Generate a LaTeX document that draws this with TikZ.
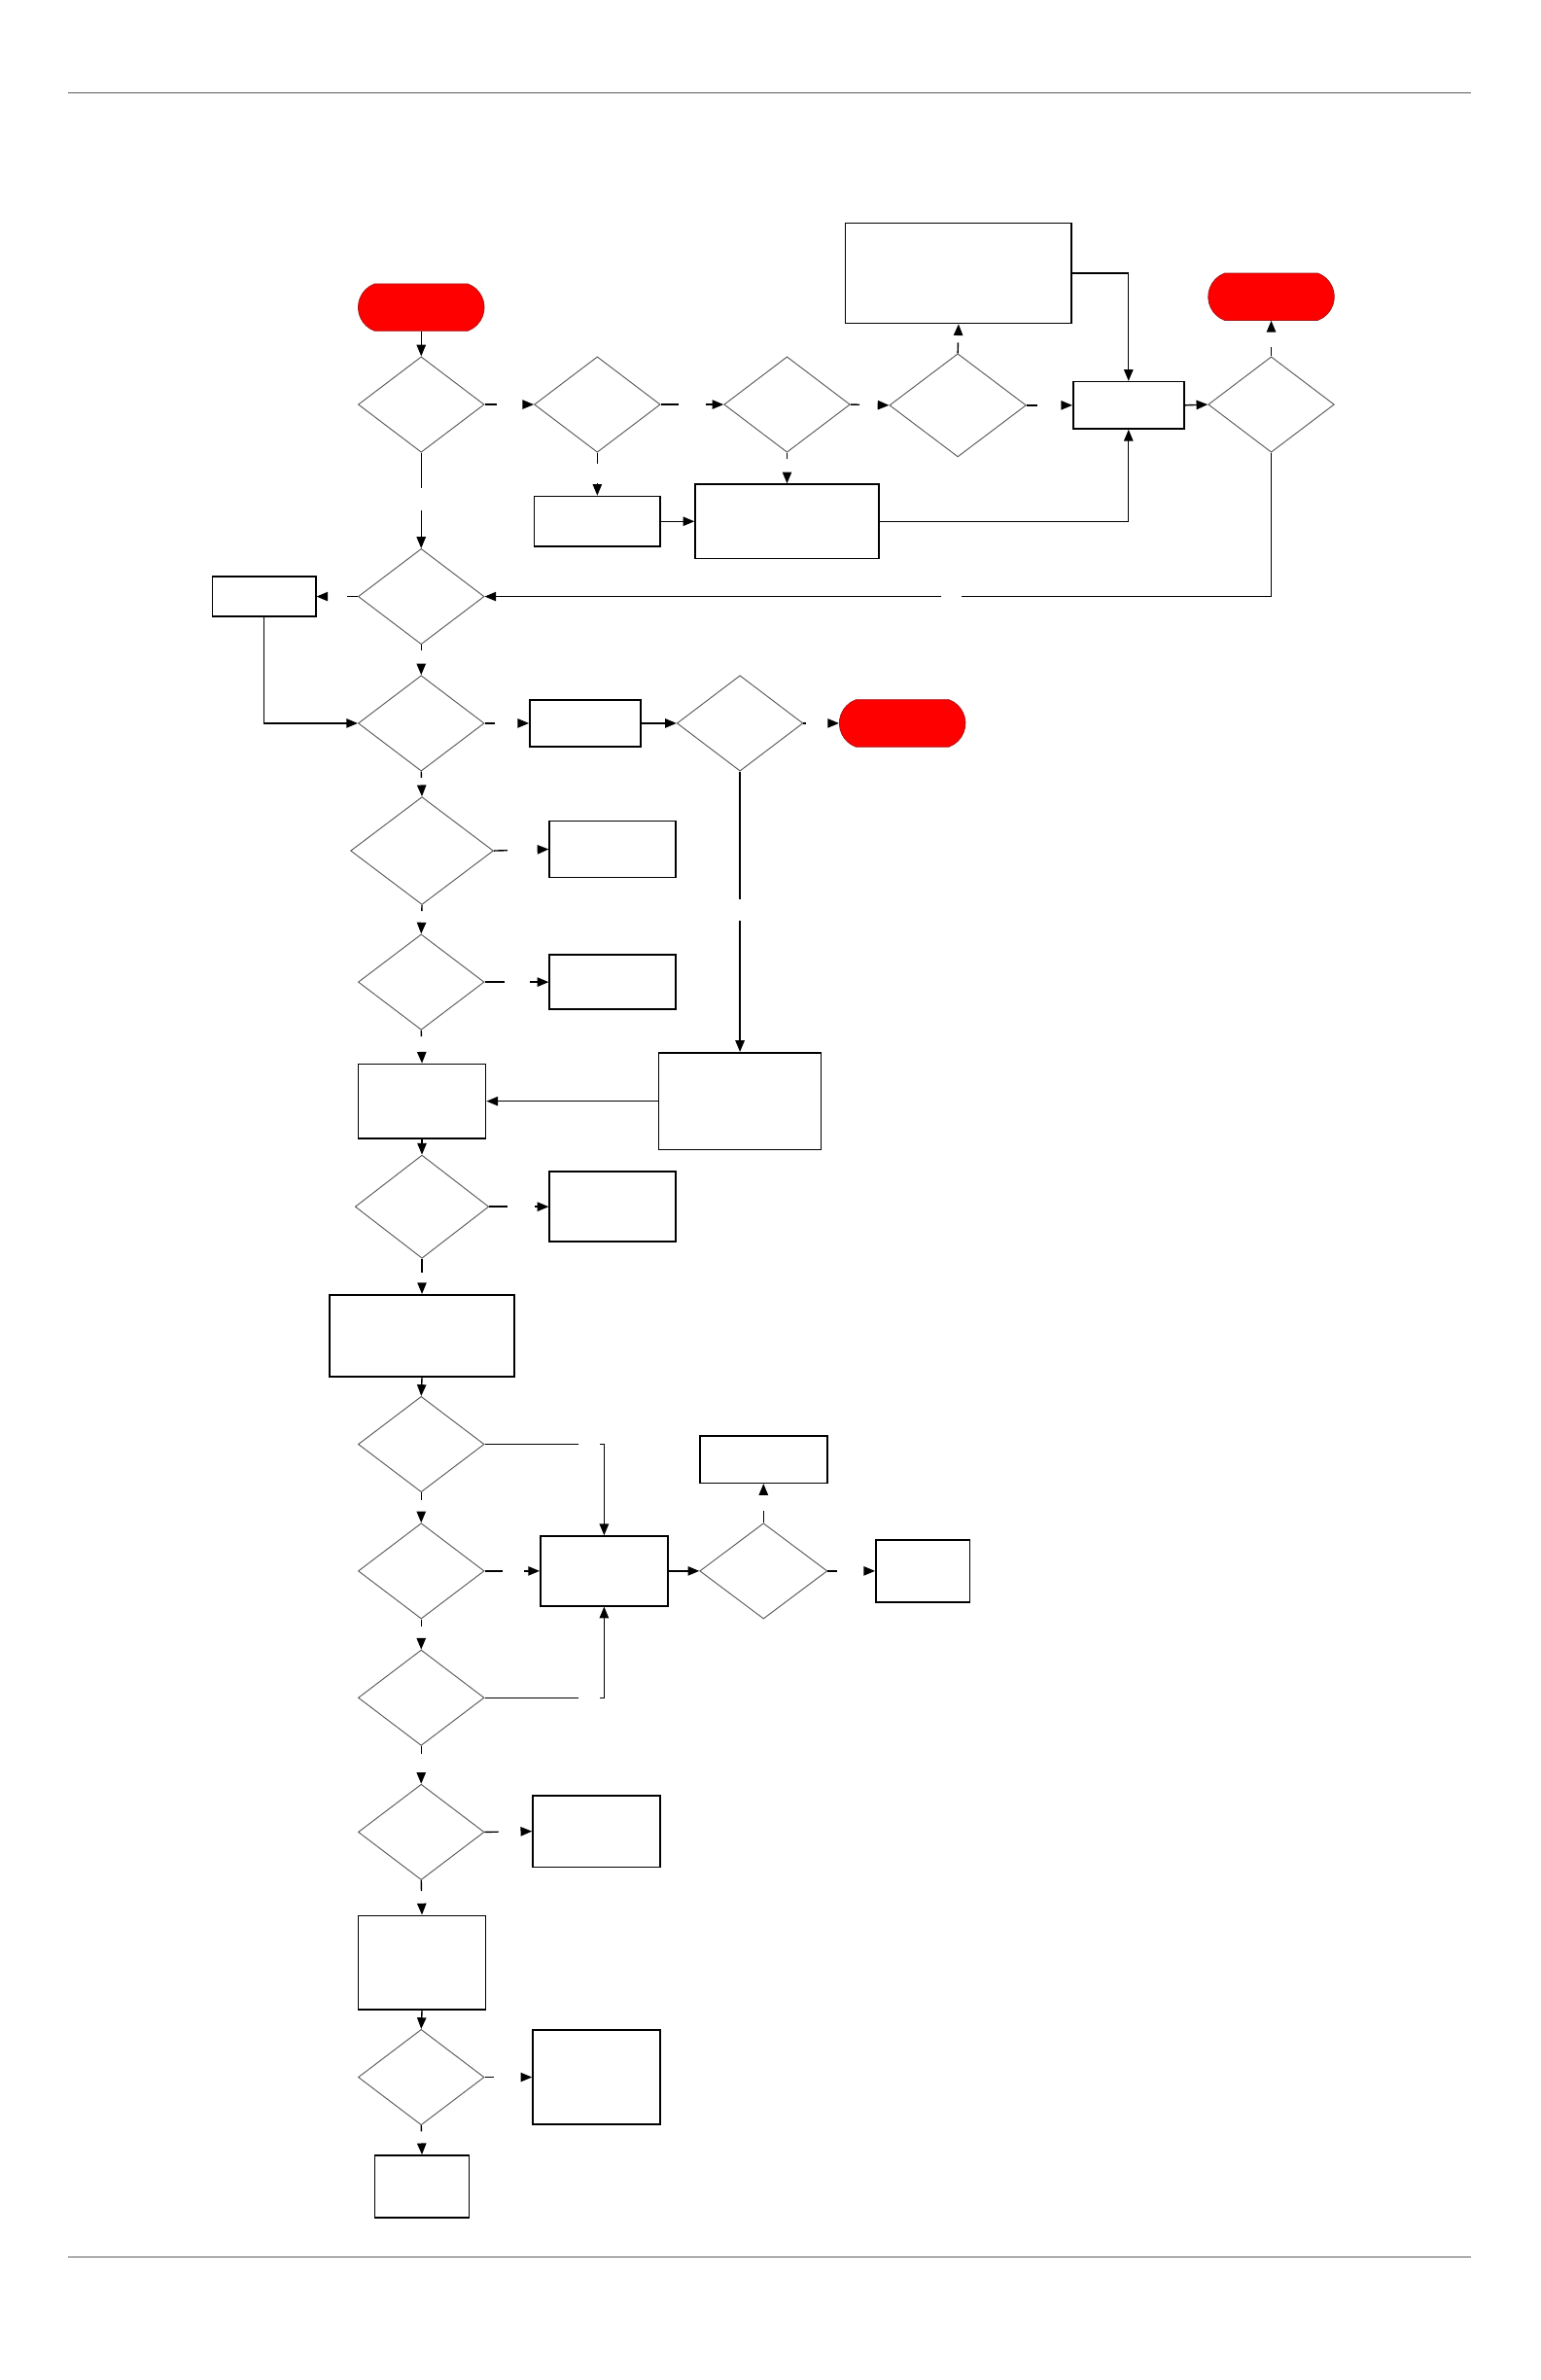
\documentclass[tikz,border=0pt]{standalone}
\usetikzlibrary{shapes.geometric,shapes.misc,arrows.meta}
\definecolor{termred}{RGB}{170,20,20}
\definecolor{rulegray}{RGB}{90,90,90}
\begin{document}
\begin{tikzpicture}[x=1pt,y=-1pt]
    \tikzstyle{procbox}=[draw=black, line width=1pt, inner sep=0pt, minimum width=83pt]
    \tikzstyle{decision}=[diamond, draw=black!65, line width=0.6pt, inner sep=0pt, minimum width=83pt, minimum height=63pt]
    \tikzstyle{terminal}=[rounded rectangle, rounded rectangle arc length=140, draw=termred, fill=red, line width=0.5pt, inner sep=0pt, minimum width=83pt, minimum height=31pt]
    \tikzstyle{link}=[-{Triangle[length=7.5pt,width=6pt]}, line width=0.9pt]
    \tikzset{cutlink/.style 2 args={link, dash pattern=on #1 off #2 on 2000pt}}

    \useasboundingbox (0,0) rectangle (1015,1568);
    \draw[rulegray, line width=0.8pt] (45,61) -- (969,61);
    \draw[rulegray, line width=0.8pt] (45,1487) -- (969,1487);

    \node[terminal] (start) at (277.5,202.5) {};
    \node[decision] (d1) at (277.5,266.5) {};
    \node[decision] (d2) at (393.5,266.5) {};
    \node[decision] (d3) at (518.5,266.5) {};
    \node[decision, minimum width=90pt, minimum height=68pt] (d4) at (631,267) {};
    \node[procbox, minimum width=149pt, minimum height=66pt] (b1) at (631.5,180) {};
    \node[procbox, minimum width=73pt, minimum height=31pt] (b2) at (743.5,267) {};
    \node[decision] (d5) at (837.5,266.5) {};
    \node[terminal] (end1) at (837.5,195.5) {};
    \node[procbox, minimum height=33pt] (b3) at (393.5,343.5) {};
    \node[procbox, minimum width=121pt, minimum height=49pt] (b4) at (518.5,343.5) {};

    \node[decision] (d6) at (277.5,393) {};
    \node[procbox, minimum width=68pt, minimum height=26pt] (b5) at (174,393) {};

    \node[decision] (d7) at (277.5,476.5) {};
    \node[procbox, minimum width=73pt, minimum height=31pt] (b6) at (385.5,476.5) {};
    \node[decision] (d8) at (487.5,476.5) {};
    \node[terminal] (end2) at (594.5,476.5) {};

    \node[decision, minimum width=94pt, minimum height=71pt] (d9) at (278,560.5) {};
    \node[procbox, minimum height=37pt] (b8) at (403.5,559.5) {};

    \node[decision] (d10) at (277.5,647) {};
    \node[procbox, minimum height=36pt] (b9) at (403.5,647) {};

    \node[procbox, minimum width=84pt, minimum height=49pt] (b10) at (278,725.5) {};
    \node[procbox, minimum width=107pt, minimum height=64pt] (b7) at (487.5,725.5) {};

    \node[decision, minimum width=88pt, minimum height=68pt] (d11) at (278,795) {};
    \node[procbox, minimum height=46pt] (b11) at (403.5,795) {};

    \node[procbox, minimum width=122pt, minimum height=54pt] (b12) at (278,880) {};

    \node[decision] (d12) at (277.5,951.5) {};
    \node[decision] (d13) at (277.5,1035) {};
    \node[procbox, minimum width=84pt, minimum height=46pt] (b13) at (398,1035) {};
    \node[decision, minimum width=84pt] (d14) at (503,1035) {};
    \node[procbox, minimum width=84pt, minimum height=31pt] (b14) at (503,961.5) {};
    \node[procbox, minimum width=62pt, minimum height=41pt] (b15) at (608,1035) {};
    \node[decision] (d15) at (277.5,1118.5) {};

    \node[decision] (d16) at (277.5,1207) {};
    \node[procbox, minimum width=84pt, minimum height=47pt] (b16) at (393,1206.5) {};
    \node[procbox, minimum width=84pt, minimum height=62pt] (b17) at (278,1293) {};
    \node[decision] (d17) at (277.5,1368.5) {};
    \node[procbox, minimum width=84pt, minimum height=62pt] (b18) at (393,1368.5) {};
    \node[procbox, minimum width=62pt, minimum height=41pt] (b19) at (278,1440.5) {};

    \draw[link] (start) -- (d1);
    \draw[cutlink={8pt}{18pt}] (d1.east) -- (d2.west);
    \draw[cutlink={12pt}{18pt}] (d2.east) -- (d3.west);
    \draw[cutlink={6pt}{14pt}] (d3.east) -- (d4.west);
    \draw[cutlink={7pt}{17pt}] (d4.east) -- (b2.west);
    \draw[link] (b2.east) -- (d5.west);
    \draw[cutlink={6pt}{11pt}] (d5.north) -- (end1.south);
    \draw[cutlink={7pt}{8pt}] (d4.north) -- (b1.south);
    \draw[link] (b1.east) -| (b2.north);
    \draw[cutlink={7pt}{13pt}] (d2.south) -- (b3.north);
    \draw[cutlink={4pt}{10pt}] (d3.south) -- (b4.north);
    \draw[link] (b3.east) -- (b4.west);
    \draw[link] (b4.east) -| (b2.south);
    \draw[cutlink={23pt}{15pt}] (d1.south) -- (d6.north);
    \draw[cutlink={299pt}{13pt}] (d5.south) |- (d6.east);

    \draw[cutlink={7pt}{14pt}] (d6.west) -- (b5.east);
    \draw[link] (b5.south) |- (d7.west);
    \draw[cutlink={4pt}{9pt}] (d6.south) -- (d7.north);
    \draw[cutlink={7pt}{16pt}] (d7.east) -- (b6.west);
    \draw[link] (b6.east) -- (d8.west);
    \draw[cutlink={2pt}{15pt}] (d8.east) -- (end2.west);
    \draw[cutlink={84pt}{14pt}] (d8.south) -- (b7.north);
    \draw[cutlink={4pt}{6pt}] (d7.south) -- (d9.north);

    \draw[cutlink={9pt}{21pt}] (d9.east) -- (b8.west);
    \draw[cutlink={4pt}{8pt}] (d9.south) -- (d10.north);
    \draw[cutlink={13pt}{17pt}] (d10.east) -- (b9.west);
    \draw[cutlink={4pt}{11pt}] (d10.south) -- (b10.north);
    \draw[link] (b7.west) -- (b10.east);
    \draw[link] (b10.south) -- (d11.north);
    \draw[cutlink={12pt}{18pt}] (d11.east) -- (b11.west);
    \draw[cutlink={9pt}{8pt}] (d11.south) -- (b12.north);
    \draw[link] (b12.south) -- (d12.north);

    \draw[cutlink={62pt}{14pt}] (d12.east) -| (b13.north);
    \draw[cutlink={5pt}{9pt}] (d12.south) -- (d13.north);
    \draw[cutlink={12pt}{14pt}] (d13.east) -- (b13.west);
    \draw[link] (b13.east) -- (d14.west);
    \draw[cutlink={8pt}{11pt}] (d14.north) -- (b14.south);
    \draw[cutlink={6pt}{19pt}] (d14.east) -- (b15.west);
    \draw[cutlink={5pt}{8pt}] (d13.south) -- (d15.north);
    \draw[cutlink={62pt}{14pt}] (d15.east) -| (b13.south);
    \draw[cutlink={5pt}{13pt}] (d15.south) -- (d16.north);

    \draw[cutlink={9pt}{15pt}] (d16.east) -- (b16.west);
    \draw[cutlink={7pt}{9pt}] (d16.south) -- (b17.north);
    \draw[link] (b17.south) -- (d17.north);
    \draw[cutlink={6pt}{18pt}] (d17.east) -- (b18.west);
    \draw[cutlink={4pt}{9pt}] (d17.south) -- (b19.north);
\end{tikzpicture}
\end{document}
